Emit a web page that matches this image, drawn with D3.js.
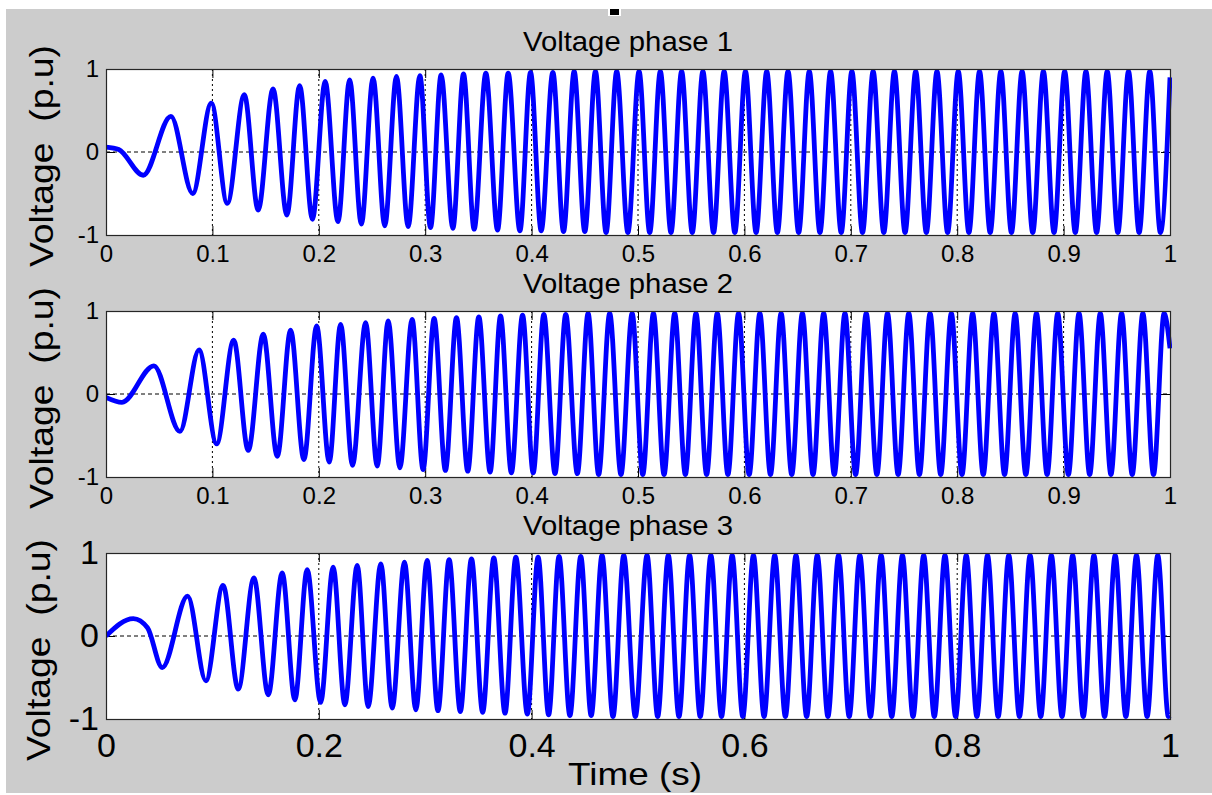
<!DOCTYPE html>
<html>
<head>
<meta charset="utf-8">
<title>Voltage phases</title>
<script src="https://d3js.org/d3.v7.min.js"></script>
<style>
  body { margin: 0; background: #fff; }
  text { font-family: "Liberation Sans", Arial, sans-serif; fill: #000; }
</style>
</head>
<body>
<script>
// extrema of each phase voltage: [time (s), voltage (p.u)]
const phase1 = [[0,0.06],[0.012,0.03],[0.035,-0.28],[0.061,0.43],[0.0815,-0.50],[0.099,0.59],[0.114,-0.62],[0.130,0.69],[0.143,-0.70],[0.157,0.76],[0.170,-0.76],[0.182,0.80],[0.194,-0.81],[0.206,0.85],[0.218,-0.84],[0.229,0.87],[0.240,-0.87],[0.251,0.89],[0.262,-0.89],[0.273,0.91],[0.284,-0.90],[0.295,0.92],[0.305,-0.91],[0.315,0.93],[0.326,-0.92],[0.336,0.94],[0.346,-0.93],[0.357,0.95],[0.368,-0.94],[0.378,0.95],[0.389,-0.95],[0.399,0.96],[0.409,-0.95],[0.420,0.96],[0.430,-0.96],[0.440,0.97],[0.450,-0.96],[0.460,0.97],[0.470,-0.97],[0.480,0.97],[0.4905,-0.97],[0.501,0.97],
  [0.511,-0.97],[0.521,0.97],[0.531,-0.97],[0.541,0.97],[0.551,-0.97],[0.561,0.97],[0.571,-0.97],[0.581,0.97],[0.591,-0.97],[0.601,0.97],[0.611,-0.97],[0.621,0.97],[0.631,-0.97],[0.641,0.97],[0.651,-0.97],[0.661,0.97],[0.671,-0.97],[0.681,0.97],[0.691,-0.97],[0.701,0.97],[0.711,-0.97],[0.721,0.97],[0.731,-0.97],[0.741,0.97],[0.751,-0.97],[0.761,0.97],[0.771,-0.97],[0.781,0.97],[0.791,-0.97],[0.801,0.97],[0.811,-0.97],[0.821,0.97],[0.831,-0.97],[0.841,0.97],[0.851,-0.97],[0.861,0.97],[0.871,-0.97],[0.881,0.97],[0.891,-0.97],[0.901,0.97],[0.911,-0.97],[0.921,0.97],[0.931,-0.97],[0.941,0.97],[0.951,-0.97],[0.961,0.97],[0.971,-0.97],[0.981,0.97],[0.991,-0.97],[1.0,0.9]];

const phase2 = [[0,-0.04],[0.015,-0.10],[0.045,0.34],[0.0695,-0.45],[0.0874,0.53],[0.104,-0.60],[0.120,0.65],[0.1337,-0.68],[0.1478,0.72],[0.161,-0.75],[0.1735,0.77],[0.186,-0.79],[0.198,0.82],[0.2098,-0.82],[0.2205,0.84],[0.2317,-0.86],[0.244,0.86],[0.2549,-0.87],[0.2652,0.88],[0.2762,-0.89],[0.2877,0.90],[0.298,-0.91],[0.3084,0.91],[0.319,-0.92],[0.3294,0.92],[0.340,-0.93],[0.3504,0.93],[0.361,-0.94],[0.3708,0.94],[0.381,-0.95],[0.3915,0.95],[0.4015,-0.95],[0.4115,0.96],[0.422,-0.96],[0.4321,0.96],[0.443,-0.96],[0.4531,0.97],[0.463,-0.97],[0.4734,0.97],[0.484,-0.97],[0.4945,0.97],
  [0.5045,-0.97],[0.5145,0.97],[0.5245,-0.97],[0.5345,0.97],[0.5445,-0.97],[0.5545,0.97],[0.5645,-0.97],[0.5745,0.97],[0.5845,-0.97],[0.5945,0.97],[0.6045,-0.97],[0.6145,0.97],[0.6245,-0.97],[0.6345,0.97],[0.6445,-0.97],[0.6545,0.97],[0.6645,-0.97],[0.6745,0.97],[0.6845,-0.97],[0.6945,0.97],[0.7045,-0.97],[0.7145,0.97],[0.7245,-0.97],[0.7345,0.97],[0.7445,-0.97],[0.7545,0.97],[0.7645,-0.97],[0.7745,0.97],[0.7845,-0.97],[0.7945,0.97],[0.8045,-0.97],[0.8145,0.97],[0.8245,-0.97],[0.8345,0.97],[0.8445,-0.97],[0.8545,0.97],[0.8645,-0.97],[0.8745,0.97],[0.8845,-0.97],[0.8945,0.97],[0.9045,-0.97],[0.9145,0.97],[0.9245,-0.97],[0.9345,0.97],[0.9445,-0.97],[0.9545,0.97],[0.9645,-0.97],[0.9745,0.97],[0.9845,-0.97],[0.9945,0.97],[1.0,0.55]];

const phase3 = [[0,0],[0.0257,0.21],[0.039,0.10],[0.0529,-0.38],[0.0767,0.48],[0.0939,-0.54],[0.110,0.61],[0.1243,-0.64],[0.139,0.70],[0.1525,-0.71],[0.1656,0.76],[0.1775,-0.77],[0.1891,0.80],[0.2017,-0.80],[0.2135,0.83],[0.2245,-0.83],[0.2361,0.85],[0.2464,-0.85],[0.2583,0.87],[0.269,-0.87],[0.2805,0.89],[0.2912,-0.89],[0.3018,0.91],[0.312,-0.90],[0.3225,0.92],[0.333,-0.91],[0.3435,0.93],[0.354,-0.92],[0.3645,0.94],[0.375,-0.93],[0.3852,0.95],[0.396,-0.94],[0.4061,0.95],[0.416,-0.95],[0.4258,0.96],[0.436,-0.96],[0.4462,0.96],[0.456,-0.96],[0.4662,0.97],[0.4765,-0.97],[0.4866,0.97],[0.4975,-0.97],
  [0.5085,0.97],[0.5185,-0.97],[0.5285,0.97],[0.5385,-0.97],[0.5485,0.97],[0.5585,-0.97],[0.5685,0.97],[0.5785,-0.97],[0.5885,0.97],[0.5985,-0.97],[0.6085,0.97],[0.6185,-0.97],[0.6285,0.97],[0.6385,-0.97],[0.6485,0.97],[0.6585,-0.97],[0.6685,0.97],[0.6785,-0.97],[0.6885,0.97],[0.6985,-0.97],[0.7085,0.97],[0.7185,-0.97],[0.7285,0.97],[0.7385,-0.97],[0.7485,0.97],[0.7585,-0.97],[0.7685,0.97],[0.7785,-0.97],[0.7885,0.97],[0.7985,-0.97],[0.8085,0.97],[0.8185,-0.97],[0.8285,0.97],[0.8385,-0.97],[0.8485,0.97],[0.8585,-0.97],[0.8685,0.97],[0.8785,-0.97],[0.8885,0.97],[0.8985,-0.97],[0.9085,0.97],[0.9185,-0.97],[0.9285,0.97],[0.9385,-0.97],[0.9485,0.97],[0.9585,-0.97],[0.9685,0.97],[0.9785,-0.97],[0.9885,0.97],[0.9985,-0.97],[1.0,-0.96]];

const titles = ["Voltage phase 1", "Voltage phase 2", "Voltage phase 3"];
const xTicksFine = [0, 0.1, 0.2, 0.3, 0.4, 0.5, 0.6, 0.7, 0.8, 0.9, 1];
const xTicksCoarse = [0, 0.2, 0.4, 0.6, 0.8, 1];
const yTicks = [-1, 0, 1];

const W = 1212, H = 795;
const left = 106, right = 1170, ph = 166;

const panels = [
    { data: phase1, title: titles[0], top: 69, xt: xTicksFine, font: 24, pad: 10, ylabY: 156, ylabX: 53 },
    { data: phase2, title: titles[1], top: 311, xt: xTicksFine, font: 24, pad: 10, ylabY: 398, ylabX: 53 },
    { data: phase3, title: titles[2], top: 553, xt: xTicksCoarse, font: 34, pad: 14, ylabY: 650, ylabX: 50 },
];

const svg = d3.select("body").append("svg")
    .attr("width", W)
    .attr("height", H);

svg.append("rect").attr("width", W).attr("height", H).attr("fill", "#fff");
svg.append("rect")
    .attr("x", 6).attr("y", 9)
    .attr("width", W - 6).attr("height", H - 11)
    .attr("fill", "#cccccc");

// little marker at the top edge
svg.append("rect").attr("x", 608).attr("y", 7).attr("width", 13).attr("height", 9).attr("fill", "#fff");
svg.append("rect").attr("x", 610).attr("y", 9).attr("width", 9).attr("height", 6).attr("fill", "#000");

const x = d3.scaleLinear().domain([0, 1]).range([left, right]);
const fmt = d => String(d);

panels.forEach((p, i) => {
    const y = d3.scaleLinear().domain([-1, 1]).range([p.top + ph, p.top]);
    const g = svg.append("g");

    g.append("rect")
        .attr("x", left).attr("y", p.top)
        .attr("width", right - left).attr("height", ph)
        .attr("fill", "#fff");

    // grid: dotted verticals and dashed zero line
    g.append("g")
        .selectAll("line")
        .data(p.xt.filter(d => d > 0 && d < 1))
        .join("line")
        .attr("x1", d => x(d)).attr("x2", d => x(d))
        .attr("y1", p.top).attr("y2", p.top + ph)
        .attr("stroke", "#000").attr("stroke-width", 1)
        .attr("stroke-dasharray", "2,3");
    g.append("line")
        .attr("x1", left).attr("x2", right)
        .attr("y1", y(0)).attr("y2", y(0))
        .attr("stroke", "#000").attr("stroke-width", 1)
        .attr("stroke-dasharray", "4,3");

    // inward ticks
    const ax = g.append("g").attr("transform", `translate(0,${p.top + ph})`)
        .call(d3.axisBottom(x).tickValues(p.xt).tickSize(-9).tickPadding(p.pad).tickFormat(fmt));
    g.append("g").attr("transform", `translate(0,${p.top})`)
        .call(d3.axisTop(x).tickValues(p.xt).tickSize(-9).tickFormat(""));
    const ay = g.append("g").attr("transform", `translate(${left},0)`)
        .call(d3.axisLeft(y).tickValues(yTicks).tickSize(-9).tickPadding(7).tickFormat(fmt));
    g.append("g").attr("transform", `translate(${right},0)`)
        .call(d3.axisRight(y).tickValues(yTicks).tickSize(-9).tickFormat(""));
    g.selectAll(".domain").remove();
    g.selectAll(".tick line").attr("stroke", "#000");
    [ax, ay].forEach(a => a.selectAll("text")
        .attr("fill", "#000")
        .style("font-family", '"Liberation Sans", Arial, sans-serif')
        .style("font-size", p.font + "px"));

    // waveform
    g.append("clipPath").attr("id", "clip" + i)
        .append("rect")
        .attr("x", left).attr("y", p.top)
        .attr("width", right - left + 2).attr("height", ph);
    const line = d3.line()
        .x(d => x(d[0]))
        .y(d => y(d[1]))
        .curve(d3.curveMonotoneX);
    g.append("path")
        .datum(p.data)
        .attr("clip-path", `url(#clip${i})`)
        .attr("d", line)
        .attr("fill", "none")
        .attr("stroke", "#0000ff")
        .attr("stroke-width", 4.8)
        .attr("stroke-linejoin", "round");

    // box
    g.append("rect")
        .attr("x", left + 0.5).attr("y", p.top + 0.5)
        .attr("width", right - left).attr("height", ph)
        .attr("fill", "none")
        .attr("stroke", "#262626").attr("stroke-width", 1.2);

    g.append("text")
        .attr("x", 628).attr("y", p.top - 18)
        .attr("text-anchor", "middle")
        .attr("textLength", 210)
        .attr("lengthAdjust", "spacingAndGlyphs")
        .style("font-size", "28px")
        .text(p.title);

    g.append("text")
        .attr("transform", `translate(${p.ylabX},${p.ylabY}) rotate(-90)`)
        .attr("text-anchor", "middle")
        .attr("textLength", 222)
        .attr("lengthAdjust", "spacingAndGlyphs")
        .style("font-size", "34px")
        .style("white-space", "pre")
        .text("Voltage  (p.u)");
});

svg.append("text")
    .attr("x", 635).attr("y", 785)
    .attr("text-anchor", "middle")
    .attr("textLength", 134)
    .attr("lengthAdjust", "spacingAndGlyphs")
    .style("font-size", "32px")
    .text("Time (s)");
</script>
</body>
</html>
